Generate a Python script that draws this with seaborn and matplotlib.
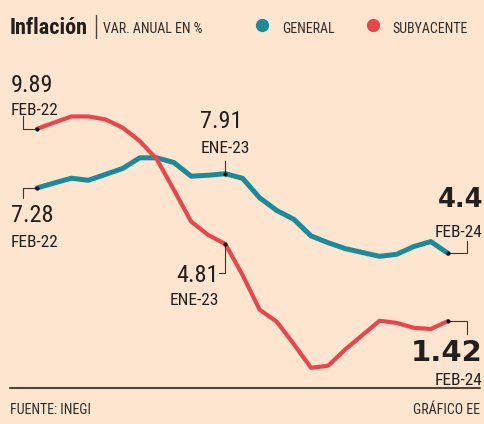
import os
import pandas as pd
import seaborn as sns
import matplotlib.pyplot as plt
from matplotlib import font_manager as fm

# datos (feb-22 a feb-24)
meses = ["FEB-22", "MAR-22", "ABR-22", "MAY-22", "JUN-22", "JUL-22", "AGO-22",
         "SEP-22", "OCT-22", "NOV-22", "DIC-22", "ENE-23", "FEB-23", "MAR-23",
         "ABR-23", "MAY-23", "JUN-23", "JUL-23", "AGO-23", "SEP-23", "OCT-23",
         "NOV-23", "DIC-23", "ENE-24", "FEB-24"]
general = [7.28, 7.50, 7.71, 7.62, 7.88, 8.14, 8.61, 8.61, 8.40, 7.80, 7.84, 7.91,
           7.71, 6.85, 6.29, 5.90, 5.17, 4.87, 4.61, 4.44, 4.27, 4.36, 4.70, 4.92, 4.40]
subyacente = [9.89, 10.16, 10.43, 10.43, 10.30, 9.94, 9.35, 8.54, 7.19, 5.80, 5.21, 4.81,
              3.45, 1.92, 1.39, 0.40, -0.64, -0.55, 0.17, 0.80, 1.43, 1.34, 1.12, 1.07, 1.42]
series = ["GENERAL", "SUBYACENTE"]
colores = {"GENERAL": "#1b8b9b", "SUBYACENTE": "#e9464b"}

df = pd.DataFrame({
    "mes": list(range(len(meses))) * 2,
    "valor": general + subyacente,
    "serie": ["GENERAL"] * len(meses) + ["SUBYACENTE"] * len(meses),
})

bg = "#fde5cf"
tc = "#231f1c"
sns.set_theme(style="white", rc={"figure.facecolor": bg, "axes.facecolor": bg})
plt.rcParams["font.family"] = ["DejaVu Sans"]


# buscar una fuente estrecha instalada
def buscar(nombres, extra):
    files = {os.path.basename(f.fname): f.fname for f in fm.fontManager.ttflist}
    for n in nombres:
        if n in files:
            return files[n], n
    for b, p in files.items():
        bl = b.lower()
        if ("condensed" in bl or "narrow" in bl) and "italic" not in bl and extra(bl):
            return p, b
    return None, None


reg_file, reg_name = buscar(["LiberationSansNarrow-Regular.ttf", "NotoSans-ExtraCondensed.ttf",
                             "NotoSans-Condensed.ttf", "RobotoCondensed-Regular.ttf",
                             "DejaVuSansCondensed.ttf"], lambda b: "bold" not in b)
bold_file, bold_name = buscar(["LiberationSansNarrow-Bold.ttf", "NotoSans-ExtraCondensedBold.ttf",
                               "NotoSans-CondensedBold.ttf", "RobotoCondensed-Bold.ttf",
                               "DejaVuSansCondensed-Bold.ttf"], lambda b: "bold" in b)

W, H = 484, 424
PXM, PXV = 17.125, 22.7  # px por mes, px por punto
fig = plt.figure(figsize=(W / 100, H / 100), dpi=100)
ax = fig.add_axes([0, 0, 1, 1])
ax.set_xlim(-37 / PXM, 24 + (W - 448) / PXM)
ax.set_ylim(7.28 - (H - 188) / PXV, 7.28 + 188 / PXV)
ax.axis("off")

sns.lineplot(data=df, x="mes", y="valor", hue="serie", palette=colores,
             hue_order=series, legend=False, ax=ax)
for ln, lw in zip(ax.lines, [3.6, 3.0]):
    ln.set_linewidth(lw)
    ln.set_solid_joinstyle("round")
    ln.set_solid_capstyle("round")


def leader(i, v, pts):
    xs = [i + dx / PXM for dx, dy in pts]
    ys = [v - dy / PXV for dx, dy in pts]
    ax.plot(xs, ys, color="#3a3632", lw=0.8, zorder=5)
    ax.plot([i], [v], "o", color="#111111", ms=2, zorder=6)


leader(0, subyacente[0], [(0, 0), (-14, 0), (-14, -13)])
leader(0, general[0], [(0, 0), (-14, 0), (-14, 10)])
leader(11, general[11], [(0, 0), (0, -13)])
leader(11, subyacente[11], [(0, 0), (0, 29), (-6, 29)])
leader(24, general[24], [(0, 0), (19, 0), (19, -12)])
leader(24, subyacente[24], [(0, 0), (19, 0), (19, 13)])


def txt(px, py, s, size, ha="left", bold=False, heavy=False, color=tc):
    if heavy:
        fp = fm.FontProperties(family="DejaVu Sans", weight="bold", size=size)
    else:
        f = bold_file if bold else reg_file
        if f:
            fp = fm.FontProperties(fname=f, size=size)
        else:
            fp = fm.FontProperties(family="DejaVu Sans", size=size * 0.8,
                                   weight="bold" if bold else "normal")
    fig.text(px / W, 1 - py / H, s, fontproperties=fp, ha=ha, va="baseline", color=color)


txt(11, 92, f"{subyacente[0]:.2f}", 17.5)
txt(11, 115, meses[0], 12.5)
txt(11, 222, f"{general[0]:.2f}", 17.5)
txt(11, 247, meses[0], 12.5)
txt(221, 128, f"{general[11]:.2f}", 17.5, ha="center")
txt(225, 153, meses[11], 12.5, ha="center")
txt(219, 282, f"{subyacente[11]:.2f}", 17.5, ha="right")
txt(219, 305, meses[11], 12.5, ha="right")
txt(483, 207, f"{general[24]:.1f}", 18.5, ha="right", heavy=True)
txt(482, 237, meses[24], 12.5, ha="right")
txt(482, 361, f"{subyacente[24]:.2f}", 21, ha="right", heavy=True)
txt(482, 385, meses[24], 12.5, ha="right")

# encabezado
txt(10, 34, "Inflación", 16, bold=True)
ax.plot([96 / W, 96 / W], [1 - 15 / H, 1 - 38 / H], transform=ax.transAxes,
        color="#4a443c", lw=1.0, clip_on=False)
txt(103, 33, "VAR. ANUAL EN %", 10, color="#2f2b27")
for s, cx, lx in zip(series, [262, 373], [282, 392]):
    ax.plot([cx / W], [1 - 25 / H], "o", transform=ax.transAxes, ms=8.5,
            color=colores[s], clip_on=False)
    txt(lx, 33, s, 10, color="#2f2b27")

# pie
ax.plot([10 / W, 480 / W], [1 - 388 / H, 1 - 388 / H], transform=ax.transAxes,
        color="#4d4636", lw=1.5, clip_on=False)
txt(10, 414, "FUENTE: INEGI", 10, color="#2f2b27")
txt(480, 414, "GRÁFICO EE", 10, ha="right", color="#2f2b27")

fig.savefig("out.png", dpi=100, facecolor=bg)
